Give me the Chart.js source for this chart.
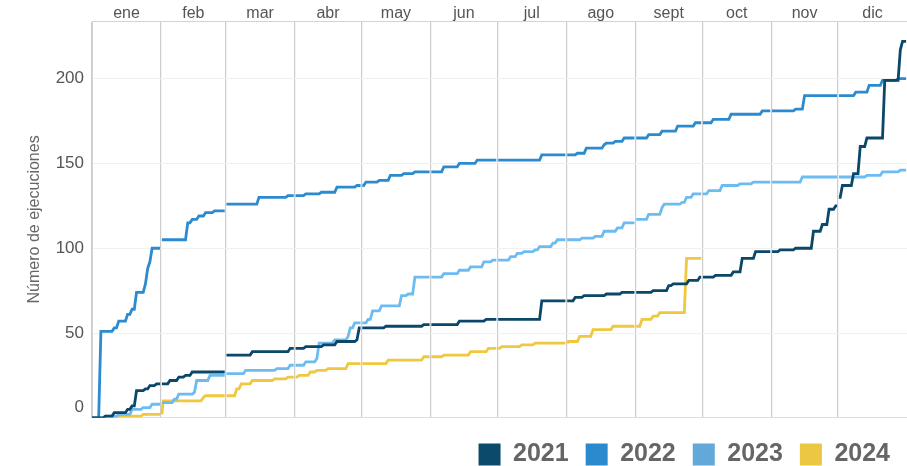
<!DOCTYPE html>
<html lang="es">
<head>
<meta charset="utf-8">
<title>Ejecuciones acumuladas por año</title>
<script src="https://cdn.jsdelivr.net/npm/chart.js@4.4.1/dist/chart.umd.min.js"></script>
<style>
  html, body { margin: 0; padding: 0; background: #fff; }
  #wrap { position: relative; width: 907px; height: 466px; }
</style>
</head>
<body>
<div id="wrap"><canvas id="runsChart"></canvas></div>
<script>
// ---------------------------------------------------
// DATA (day of year where the running total changes, and the new total)
// ---------------------------------------------------
const monthNames = ["ene", "feb", "mar", "abr", "may", "jun", "jul", "ago", "sept", "oct", "nov", "dic"];
const monthStarts = [0, 31, 60, 91, 121, 152, 182, 213, 244, 274, 305, 335, 366];
const yTicks = [0, 50, 100, 150, 200];

const years = ["2021", "2022", "2023", "2024"];
const lastDays = [366, 366, 366, 274];

const days2021 = [0, 6, 10, 16, 18, 20, 24, 26, 29, 35, 39, 42, 45, 60, 72, 89, 96, 104, 110, 119, 120, 132, 149, 165, 177, 202, 217, 221, 231, 238, 252, 259, 261, 268, 273, 280, 288, 292, 298, 309, 316, 324, 328, 331, 334, 335, 337, 342, 345, 348, 356, 363, 364];
const runs2021 = [0, 1, 3, 5, 7, 16, 17, 19, 20, 22, 24, 25, 27, 37, 39, 41, 42, 43, 45, 46, 53, 54, 55, 57, 58, 69, 71, 72, 73, 74, 75, 78, 79, 81, 83, 84, 86, 94, 98, 99, 100, 110, 114, 123, 125, 130, 137, 144, 160, 165, 199, 217, 222];

const days2022 = [0, 4, 10, 12, 16, 18, 20, 24, 25, 26, 27, 31, 43, 45, 48, 51, 55, 60, 75, 88, 96, 103, 110, 119, 123, 129, 134, 140, 145, 158, 165, 173, 202, 218, 222, 230, 231, 235, 239, 250, 256, 263, 271, 279, 287, 301, 316, 320, 343, 349, 355, 362];
const runs2022 = [0, 51, 53, 57, 61, 64, 74, 79, 88, 92, 100, 105, 115, 117, 119, 121, 122, 126, 130, 131, 132, 133, 136, 137, 139, 140, 143, 144, 145, 148, 150, 152, 155, 156, 159, 161, 162, 163, 165, 167, 169, 172, 174, 176, 179, 181, 182, 190, 192, 196, 199, 200];

const days2023 = [0, 6, 12, 18, 23, 27, 31, 37, 39, 46, 47, 53, 60, 69, 83, 89, 96, 101, 102, 109, 115, 116, 118, 124, 126, 130, 139, 142, 145, 158, 165, 170, 176, 180, 188, 191, 194, 199, 201, 207, 209, 220, 226, 230, 236, 239, 244, 250, 256, 257, 265, 267, 270, 277, 283, 291, 297, 319, 348, 355, 363];
const runs2023 = [0, 1, 2, 5, 6, 8, 9, 11, 14, 15, 22, 25, 26, 28, 29, 31, 33, 35, 44, 46, 48, 53, 56, 58, 63, 66, 72, 73, 83, 85, 87, 89, 92, 93, 95, 97, 98, 99, 101, 103, 105, 106, 107, 110, 112, 115, 117, 120, 124, 126, 127, 130, 132, 134, 137, 138, 139, 142, 143, 145, 146];

const days2024 = [0, 12, 23, 32, 50, 51, 65, 67, 72, 82, 88, 93, 98, 101, 106, 115, 133, 149, 158, 170, 178, 184, 193, 199, 214, 219, 225, 234, 247, 252, 255, 267];
const runs2024 = [0, 1, 2, 10, 12, 13, 17, 20, 22, 23, 24, 25, 27, 28, 29, 32, 34, 36, 37, 39, 41, 42, 43, 44, 45, 48, 52, 54, 58, 60, 62, 94];

const seriesDays = [days2021, days2022, days2023, days2024];
const seriesRuns = [runs2021, runs2022, runs2023, runs2024];

const lineColors = ["#0a4768", "#2b8bce", "#6cbcf1", "#f0c83f"];
const legendColors = ["#0b4a6b", "#2a8acd", "#62a9da", "#ebc744"];

// ---------------------------------------------------
// turn the change list into points, one line piece per month
// ---------------------------------------------------
function buildSeries(days, runs, lastDay) {
    const points = [{ x: days[0], y: runs[0] }];
    let value = runs[0];
    let i = 1;

    for (let m = 1; m < monthStarts.length; m++) {
        const edge = monthStarts[m];
        if (edge > lastDay) break;

        // hold the old total until the day before, then climb
        while (i < days.length && days[i] < edge) {
            const prevX = points[points.length - 1].x;
            if (days[i] - 1 > prevX) points.push({ x: days[i] - 1, y: value });
            value = runs[i];
            points.push({ x: days[i], y: value });
            i++;
        }
        points.push({ x: edge - 0.4, y: value });
        if (edge === lastDay) break;

        // break the line at the month boundary
        points.push({ x: edge, y: null });
        if (i < days.length && days[i] === edge) {
            value = runs[i];
            i++;
        }
        points.push({ x: edge + 0.4, y: value });
    }
    return points;
}

// ---------------------------------------------------
// CHART
// ---------------------------------------------------
Chart.defaults.font.family = "'Liberation Sans', Arial, sans-serif";

const ctx = document.getElementById("runsChart");

new Chart(ctx, {
    type: "line",
    data: {
        datasets: years.map((year, i) => ({
            label: year,
            data: buildSeries(seriesDays[i], seriesRuns[i], lastDays[i]),
            borderColor: lineColors[i],
            backgroundColor: legendColors[i],
            borderWidth: 2.8,
            pointRadius: 0,
            fill: false,
            tension: 0,
            spanGaps: false
        }))
    },
    options: {
        responsive: true,
        maintainAspectRatio: false,
        animation: false,
        layout: { padding: { left: 0, right: 0, top: 0, bottom: -11 } },
        scales: {
            x: {
                type: "linear",
                position: "top",
                min: 0,
                max: 366,
                afterBuildTicks: scale => {
                    const ticks = [];
                    for (let m = 0; m < 12; m++) {
                        ticks.push({ value: monthStarts[m] });
                        ticks.push({ value: (monthStarts[m] + monthStarts[m + 1]) / 2 });
                    }
                    scale.ticks = ticks;
                },
                afterFit: scale => { scale.height = 21; },
                ticks: {
                    autoSkip: false,
                    maxRotation: 0,
                    padding: -2,
                    color: "#555",
                    font: { size: 16 },
                    callback: value => {
                        const m = monthStarts.findIndex((s, i) => i < 12 && (s + monthStarts[i + 1]) / 2 === value);
                        return m >= 0 ? monthNames[m] : "";
                    }
                },
                grid: {
                    drawTicks: false,
                    lineWidth: 1.2,
                    color: c => (c.tick && monthStarts.includes(c.tick.value)) ? "#cccccc" : "rgba(0,0,0,0)"
                },
                border: { color: "#d4d4d4" }
            },
            y: {
                min: 0,
                max: 234,
                afterBuildTicks: scale => { scale.ticks = yTicks.map(v => ({ value: v })); },
                afterFit: scale => { scale.width = 92; },
                ticks: {
                    padding: 8,
                    color: "#555",
                    font: { size: 17 },
                    callback: v => v === 0 ? ["0", ""] : v
                },
                grid: {
                    drawTicks: false,
                    color: c => (c.tick && c.tick.value === 0) ? "#dddddd" : "#f0f0f0"
                },
                border: { color: "#d4d4d4" },
                title: {
                    display: true,
                    text: "Número de ejecuciones",
                    color: "#666",
                    font: { size: 16 },
                    padding: { top: 25, bottom: 0 }
                }
            }
        },
        plugins: {
            tooltip: { enabled: false },
            legend: {
                position: "bottom",
                align: "end",
                title: { display: true, text: " ", padding: 0, font: { size: 6 } },
                labels: {
                    boxWidth: 22,
                    boxHeight: 22,
                    padding: 17,
                    color: "#7f7f7f",
                    font: { size: 25, weight: "bold" },
                    generateLabels: chart => chart.data.datasets.map((ds, i) => ({
                        text: ds.label,
                        fillStyle: legendColors[i],
                        strokeStyle: legendColors[i],
                        lineWidth: 0,
                        hidden: false,
                        datasetIndex: i
                    }))
                }
            }
        }
    }
});
</script>
</body>
</html>
